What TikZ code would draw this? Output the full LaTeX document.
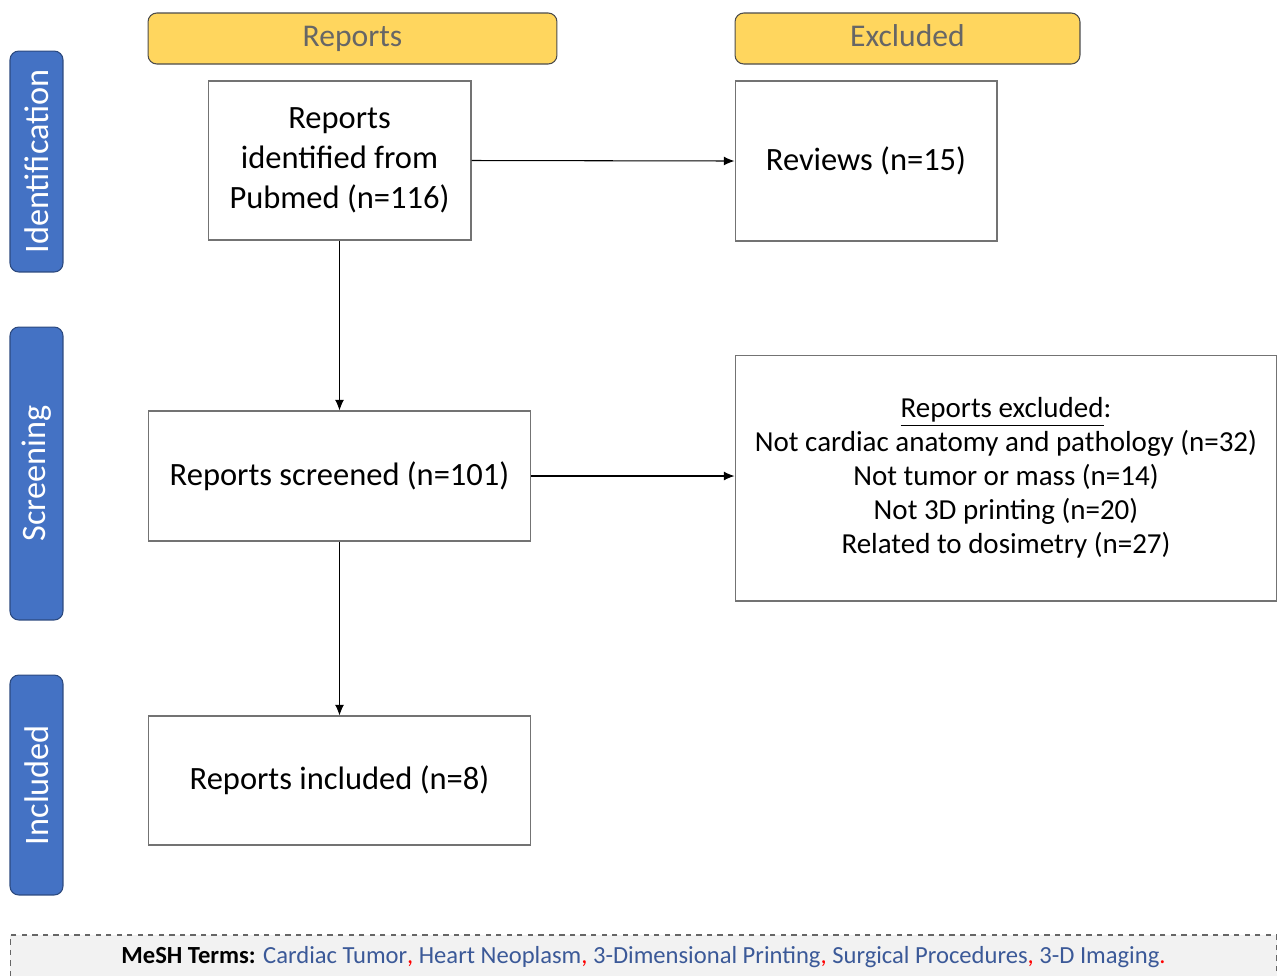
\documentclass[tikz,border=0pt]{standalone}
\usepackage{fontspec}
\setmainfont{Carlito}
\usepackage{xcolor}
\usetikzlibrary{arrows.meta, positioning}
\definecolor{hd_yellow}{RGB}{255,214,94}
\definecolor{sb_blue}{RGB}{68,114,196}
\definecolor{mesh_blue}{RGB}{59,89,152}
\definecolor{mesh_gray}{RGB}{242,242,242}

\begin{document}
\begin{tikzpicture}[x=0.02cm, y=-0.02cm,
        hd/.style={draw=black!70, fill=hd_yellow, rounded corners=5pt, line width=0.6pt,
                   text=black!60, inner sep=0pt, text height=2.2ex, text depth=.25ex,
                   font=\fontsize{18}{21}\selectfont},
        sb/.style={draw=sb_blue!65!black, fill=sb_blue, rounded corners=5pt, line width=0.6pt,
                   text=white, rotate=90, inner sep=0pt, minimum height=1.06cm,
                   font=\fontsize{19.5}{22}\selectfont},
        bx/.style={draw=black!55, fill=white, line width=0.6pt, align=center,
                   inner sep=0pt, font=\fontsize{18.5}{22.7}\selectfont},
        ar/.style={-{Latex[length=6pt, width=5pt]}, line width=0.6pt}]
        \useasboundingbox (0,0) rectangle (1279,975);
        % column headers
        \node[hd, minimum width=8.18cm, minimum height=1.02cm] (hrep) at (352.5,38.5) {Reports};
        \node[hd, minimum width=6.90cm, minimum height=1.02cm] (hexc) at (907.5,38.5) {Excluded};
        % stage bars
        \node[sb, minimum width=4.42cm] (sid)  at (36.5,161.5) {Identification};
        \node[sb, minimum width=5.86cm] (sscr) at (36.5,473.5) {Screening};
        \node[sb, minimum width=4.40cm] (sinc) at (36.5,785.0) {Included};
        % boxes
        \node[bx, minimum width=5.26cm, minimum height=3.18cm] (bpub) at (339.5,160.5)
          {Reports\\identified from\\Pubmed (n=116)};
        \node[bx, minimum width=5.24cm, minimum height=3.20cm] (brev) at (866,161)
          {Reviews (n=15)};
        \node[bx, minimum width=7.66cm, minimum height=2.60cm] (bscr) at (339.5,476)
          {Reports screened (n=101)};
        \node[bx, minimum width=10.84cm, minimum height=4.92cm, font=\fontsize{16.5}{19.3}\selectfont]
          (bexc) at (1006,478)
          {\underline{Reports excluded}:\\Not cardiac anatomy and pathology (n=32)\\
           Not tumor or mass (n=14)\\Not 3D printing (n=20)\\Related to dosimetry (n=27)};
        \node[bx, minimum width=7.66cm, minimum height=2.58cm] (binc) at (339.5,780.5)
          {Reports included (n=8)};
        % arrows
        \draw[ar] (bpub.east) -- (brev.west);
        \draw[ar] (bpub.south) -- (bscr.north);
        \draw[ar] (bscr.east) -- (bscr.east -| bexc.west);
        \draw[ar] (bscr.south) -- (binc.north);
        % MeSH footer
        \node[draw=black!60, dashed, fill=mesh_gray, line width=0.6pt, inner sep=0pt,
              minimum width=25.34cm, minimum height=0.9cm,
              font=\fontsize{14}{16}\selectfont] (mesh) at (643.5,957.5)
          {\textbf{MeSH Terms:} \textcolor{mesh_blue}{Cardiac Tumor}\textcolor{red}{,}
           \textcolor{mesh_blue}{Heart Neoplasm}\textcolor{red}{,}
           \textcolor{mesh_blue}{3-Dimensional Printing}\textcolor{red}{,}
           \textcolor{mesh_blue}{Surgical Procedures}\textcolor{red}{,}
           \textcolor{mesh_blue}{3-D Imaging}\textcolor{red}{.}};
\end{tikzpicture}
\end{document}
